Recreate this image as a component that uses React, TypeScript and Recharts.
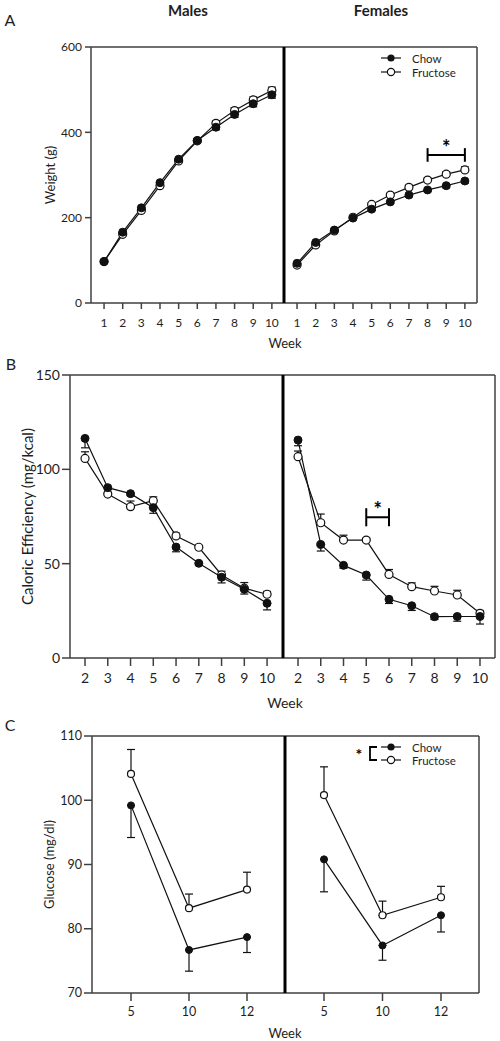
import type { ReactNode } from "react";
import { ErrorBar, Line, LineChart, ReferenceDot, ReferenceLine, XAxis, YAxis } from "recharts";

const FONT = "Lato, 'Open Sans', sans-serif";
const INK = "#111111";
const AXIS = "#404040";
const TEXT = "#1e1e1e";

// A: body weight (g)
const weightWeeks = [1, 2, 3, 4, 5, 6, 7, 8, 9, 10];
const weightTicks = [0, 200, 400, 600];
const weightMaleChow = [97, 166, 223, 282, 337, 381, 412, 442, 467, 488];
const weightMaleChowSem = [2, 3, 3, 4, 4, 5, 6, 7, 7, 8];
const weightMaleFructose = [97, 161, 217, 275, 333, 380, 421, 451, 476, 498];
const weightMaleFructoseSem = [2, 3, 3, 4, 4, 5, 6, 7, 7, 8];
const weightFemaleChow = [93, 142, 171, 199, 220, 237, 253, 265, 275, 286];
const weightFemaleChowSem = [2, 3, 3, 3, 3, 4, 4, 4, 5, 5];
const weightFemaleFructose = [89, 136, 169, 201, 231, 253, 271, 288, 302, 312];
const weightFemaleFructoseSem = [2, 3, 3, 3, 4, 4, 5, 5, 6, 7];

// B: caloric efficiency (mg/kcal)
const efficiencyWeeks = [2, 3, 4, 5, 6, 7, 8, 9, 10];
const efficiencyTicks = [0, 50, 100, 150];
const efficiencyMaleChow = [116.4, 90.3, 87.1, 79.7, 58.8, 50.2, 42.8, 36.4, 29];
const efficiencyMaleChowSem = [5, 1, 1, 3, 2.5, 1, 3, 2.5, 3.5];
const efficiencyMaleFructose = [105.8, 86.9, 80.2, 83.4, 64.7, 58.7, 44, 37, 33.8];
const efficiencyMaleFructoseSem = [3.5, 1, 3, 2, 1.5, 1, 2, 3, 1.5];
const efficiencyFemaleChow = [115.5, 60.2, 49.1, 44, 31.1, 27.7, 21.9, 22, 22];
const efficiencyFemaleChowSem = [3, 3.5, 1.5, 2.7, 2.2, 2.5, 1.5, 2.5, 4];
const efficiencyFemaleFructose = [106.7, 71.7, 62.5, 62.5, 44.3, 37.8, 35.5, 33.4, 23.7];
const efficiencyFemaleFructoseSem = [3, 4.6, 2.6, 1, 2.6, 2, 2.5, 2.5, 1.5];

// C: glucose (mg/dl)
const glucoseWeeks = [5, 10, 12];
const glucoseTicks = [70, 80, 90, 100, 110];
const glucoseMaleChow = [99.2, 76.7, 78.7];
const glucoseMaleChowSem = [5, 3.3, 2.4];
const glucoseMaleFructose = [104.1, 83.2, 86.1];
const glucoseMaleFructoseSem = [3.8, 2.2, 2.7];
const glucoseFemaleChow = [90.8, 77.4, 82.1];
const glucoseFemaleChowSem = [5.05, 2.3, 2.6];
const glucoseFemaleFructose = [100.8, 82.1, 84.9];
const glucoseFemaleFructoseSem = [4.4, 2.2, 1.7];

type Row = {
  week: number;
  chow: number;
  fructose: number;
  chowErr: number[];
  fructoseErr: number[];
};

// SEM is only drawn away from the other group: chow down, fructose up
function toRows(weeks: number[], chow: number[], chowSem: number[], fructose: number[], fructoseSem: number[]): Row[] {
  return weeks.map((week, i) => ({
    week,
    chow: chow[i],
    fructose: fructose[i],
    chowErr: [chowSem[i], 0],
    fructoseErr: [0, fructoseSem[i]],
  }));
}

type Layout = {
  top: number;
  plotTop: number;
  plotBottom: number;
  plotLeft: number;
  divider: number;
  plotRight: number;
  fontSize: number;
  tickSize: number;
  tickMargin: number;
  yTickMargin: number;
  dot: number;
  yLabel: string;
  yLabelDx: number;
  labelSize: number;
};

const layoutA: Layout = {
  top: 0, plotTop: 47, plotBottom: 303, plotLeft: 91, divider: 284, plotRight: 477,
  fontSize: 12, tickSize: 6, tickMargin: 9, yTickMargin: 3, dot: 4,
  yLabel: "Weight (g)", yLabelDx: 5, labelSize: 13,
};
const layoutB: Layout = {
  top: 340, plotTop: 375, plotBottom: 658, plotLeft: 70, divider: 283, plotRight: 495,
  fontSize: 14, tickSize: 8, tickMargin: 7, yTickMargin: 2, dot: 4,
  yLabel: "Caloric Efficiency (mg/kcal)", yLabelDx: -7, labelSize: 15,
};
const layoutC: Layout = {
  top: 690, plotTop: 736, plotBottom: 993, plotLeft: 92, divider: 285, plotRight: 479,
  fontSize: 12.5, tickSize: 8, tickMargin: 6, yTickMargin: 2, dot: 3.5,
  yLabel: "Glucose (mg/dl)", yLabelDx: 3, labelSize: 13,
};

type HalfProps = {
  layout: Layout;
  side: "left" | "right";
  data: Row[];
  yDomain: [number, number];
  yTicks: number[];
  xDomain?: [number, number];
  children?: ReactNode;
};

function HalfChart({ layout, side, data, yDomain, yTicks, xDomain, children }: HalfProps) {
  const isLeft = side === "left";
  const pad = 3;
  const left = isLeft ? 0 : layout.divider - pad;
  const width = isLeft ? layout.divider : layout.plotRight - layout.divider + 2 * pad;
  const height = layout.plotBottom - layout.top + 40;
  const tick = { fontSize: layout.fontSize, fill: TEXT, fontFamily: FONT };
  const axisLine = { stroke: AXIS, strokeWidth: 1.5 };
  // frame axes are 1px thick (zero-size axes are not drawn)
  const margin = {
    top: layout.plotTop - layout.top - 1,
    right: isLeft ? 0 : pad - 1,
    bottom: 0,
    left: isLeft ? 0 : pad - 1,
  };

  return (
    <div style={{ position: "absolute", left, top: layout.top }}>
      <LineChart width={width} height={height} data={data} margin={margin}>
        {xDomain ? (
          <XAxis
            dataKey="week"
            type="number"
            domain={xDomain}
            allowDataOverflow
            ticks={data.map((d) => d.week)}
            interval={0}
            height={40}
            tick={tick}
            tickSize={layout.tickSize}
            tickMargin={layout.tickMargin}
            axisLine={axisLine}
            tickLine={axisLine}
          />
        ) : (
          <XAxis
            dataKey="week"
            type="category"
            padding={{ left: 39, right: 38 }}
            interval={0}
            height={40}
            tick={tick}
            tickSize={layout.tickSize}
            tickMargin={layout.tickMargin}
            axisLine={axisLine}
            tickLine={axisLine}
          />
        )}
        <XAxis xAxisId="frame" orientation="top" height={1} tick={false} tickLine={false} axisLine={axisLine} />
        {isLeft ? (
          <YAxis
            domain={yDomain}
            ticks={yTicks}
            interval={0}
            width={layout.plotLeft}
            tick={tick}
            tickSize={layout.tickSize}
            tickMargin={layout.yTickMargin}
            axisLine={axisLine}
            tickLine={axisLine}
            label={{
              value: layout.yLabel,
              angle: -90,
              position: "center",
              dx: layout.yLabelDx,
              style: { fontSize: layout.labelSize, fill: TEXT, fontFamily: FONT },
            }}
          />
        ) : (
          <YAxis
            domain={yDomain}
            width={1}
            tick={false}
            tickLine={false}
            axisLine={{ stroke: "#000", strokeWidth: 3 }}
          />
        )}
        {!isLeft && (
          <YAxis yAxisId="frame" orientation="right" domain={yDomain} width={1} tick={false} tickLine={false} axisLine={axisLine} />
        )}
        <Line
          dataKey="fructose"
          stroke={INK}
          strokeWidth={1.2}
          dot={{ r: layout.dot, fill: "#fff", stroke: INK, strokeWidth: 1.2 }}
          activeDot={false}
          isAnimationActive={false}
        >
          <ErrorBar dataKey="fructoseErr" direction="y" width={4} stroke={INK} strokeWidth={1.2} />
        </Line>
        <Line
          dataKey="chow"
          stroke={INK}
          strokeWidth={1.2}
          dot={{ r: layout.dot, fill: INK, stroke: INK, strokeWidth: 1 }}
          activeDot={false}
          isAnimationActive={false}
        >
          <ErrorBar dataKey="chowErr" direction="y" width={4} stroke={INK} strokeWidth={1.2} />
        </Line>
        {children}
      </LineChart>
    </div>
  );
}

// significance bracket: horizontal bar with end caps and a star above
function sigBar(from: number, to: number, level: number, cap: number) {
  return [
    <ReferenceLine key="bar" segment={[{ x: from, y: level }, { x: to, y: level }]} stroke="#000" strokeWidth={2} />,
    <ReferenceLine key="c1" segment={[{ x: from, y: level - cap }, { x: from, y: level + cap }]} stroke="#000" strokeWidth={2} />,
    <ReferenceLine key="c2" segment={[{ x: to, y: level - cap }, { x: to, y: level + cap }]} stroke="#000" strokeWidth={2} />,
    <ReferenceDot
      key="star"
      x={(from + to) / 2}
      y={level}
      r={0}
      fill="none"
      stroke="none"
      label={{ value: "*", position: "top", offset: 0, fontSize: 20, fontWeight: 700, fill: "#000", fontFamily: FONT }}
    />,
  ];
}

function Key({ x, y, gap, star }: { x: number; y: number; gap: number; star?: boolean }) {
  // x, y: page position of the Chow marker
  const ox = 42;
  const oy = 9;
  return (
    <svg style={{ position: "absolute", left: x - ox, top: y - oy }} width={130} height={40}>
      <line x1={ox - 10} x2={ox + 10} y1={oy} y2={oy} stroke={INK} strokeWidth={1.2} />
      <circle cx={ox} cy={oy} r={3.6} fill={INK} />
      <line x1={ox - 10} x2={ox + 10} y1={oy + gap} y2={oy + gap} stroke={INK} strokeWidth={1.2} />
      <circle cx={ox} cy={oy + gap} r={3.6} fill="#fff" stroke={INK} strokeWidth={1.2} />
      <text x={ox + 21} y={oy} dominantBaseline="central" fontSize={11.5} fill={TEXT} fontFamily={FONT}>
        Chow
      </text>
      <text x={ox + 21} y={oy + gap} dominantBaseline="central" fontSize={11.5} fill={TEXT} fontFamily={FONT}>
        Fructose
      </text>
      {star && (
        <>
          <path
            d={`M ${ox - 14} ${oy} H ${ox - 21} V ${oy + gap} H ${ox - 14}`}
            fill="none"
            stroke="#000"
            strokeWidth={1.8}
          />
          <text x={ox - 32} y={oy + gap / 2 + 6} textAnchor="middle" fontSize={16} fontWeight={700} fill="#000" fontFamily={FONT}>
            *
          </text>
        </>
      )}
    </svg>
  );
}

function Caption({ x, y, size, bold, children }: { x: number; y: number; size: number; bold?: boolean; children: ReactNode }) {
  return (
    <div
      style={{
        position: "absolute",
        left: x,
        top: y,
        transform: "translate(-50%, -50%)",
        whiteSpace: "nowrap",
        fontSize: size,
        fontWeight: bold ? 700 : 400,
        color: TEXT,
        lineHeight: 1,
      }}
    >
      {children}
    </div>
  );
}

export default function App() {
  const wMale = toRows(weightWeeks, weightMaleChow, weightMaleChowSem, weightMaleFructose, weightMaleFructoseSem);
  const wFemale = toRows(weightWeeks, weightFemaleChow, weightFemaleChowSem, weightFemaleFructose, weightFemaleFructoseSem);
  const eMale = toRows(efficiencyWeeks, efficiencyMaleChow, efficiencyMaleChowSem, efficiencyMaleFructose, efficiencyMaleFructoseSem);
  const eFemale = toRows(efficiencyWeeks, efficiencyFemaleChow, efficiencyFemaleChowSem, efficiencyFemaleFructose, efficiencyFemaleFructoseSem);
  const gMale = toRows(glucoseWeeks, glucoseMaleChow, glucoseMaleChowSem, glucoseMaleFructose, glucoseMaleFructoseSem);
  const gFemale = toRows(glucoseWeeks, glucoseFemaleChow, glucoseFemaleChowSem, glucoseFemaleFructose, glucoseFemaleFructoseSem);

  return (
    <div style={{ position: "absolute", left: 0, top: 0, width: 500, height: 1041, background: "#fff", fontFamily: FONT }}>
      <Caption x={10} y={20} size={16}>A</Caption>
      <Caption x={188} y={10} size={15} bold>Males</Caption>
      <Caption x={381} y={10} size={15} bold>Females</Caption>
      <HalfChart layout={layoutA} side="left" data={wMale} yDomain={[0, 600]} yTicks={weightTicks} xDomain={[0.3, 10.65]} />
      <HalfChart layout={layoutA} side="right" data={wFemale} yDomain={[0, 600]} yTicks={weightTicks} xDomain={[0.3, 10.65]}>
        {sigBar(8, 10, 347, 16)}
      </HalfChart>
      <Key x={391} y={58} gap={14} />
      <Caption x={285} y={343} size={13}>Week</Caption>

      <Caption x={11} y={364} size={16}>B</Caption>
      <HalfChart layout={layoutB} side="left" data={eMale} yDomain={[0, 150]} yTicks={efficiencyTicks} xDomain={[1.34, 10.7]} />
      <HalfChart layout={layoutB} side="right" data={eFemale} yDomain={[0, 150]} yTicks={efficiencyTicks} xDomain={[1.34, 10.66]}>
        {sigBar(5, 6, 74.6, 4.8)}
      </HalfChart>
      <Caption x={285} y={703} size={14}>Week</Caption>

      <Caption x={10} y={725} size={16}>C</Caption>
      <HalfChart layout={layoutC} side="left" data={gMale} yDomain={[70, 110]} yTicks={glucoseTicks} />
      <HalfChart layout={layoutC} side="right" data={gFemale} yDomain={[70, 110]} yTicks={glucoseTicks} />
      <Key x={391} y={747} gap={13} star />
      <Caption x={285} y={1033} size={13}>Week</Caption>
    </div>
  );
}
